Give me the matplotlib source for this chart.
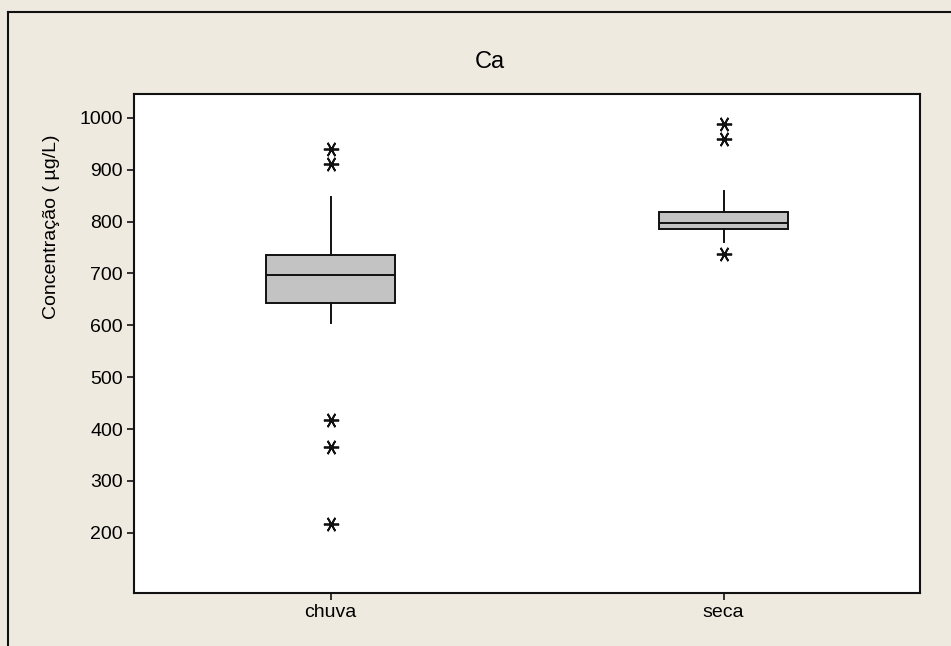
import matplotlib
matplotlib.use("Agg")
import matplotlib.pyplot as plt
from matplotlib.lines import Line2D

plt.rcParams['font.family'] = ['Liberation Sans', 'DejaVu Sans']

categories = ["chuva", "seca"]
q1 = [644, 786]
med = [697, 797]
q3 = [735, 818]
whislo = [604, 760]
whishi = [847, 859]
outliers = [[940, 911, 418, 366, 217], [988, 959, 737]]
yticks = [200, 300, 400, 500, 600, 700, 800, 900, 1000]

W, H = 951, 646
fig = plt.figure(figsize=(W / 100, H / 100), dpi=100)
bg = "#EEEAE0"
fig.patch.set_facecolor(bg)

# axes position from pixel coordinates
l, r, t, b = 134, 920, 94, 593
ax = fig.add_axes([l / W, 1 - b / H, (r - l) / W, (b - t) / H])
ax.set_facecolor("white")

stats = []
for i, c in enumerate(categories):
    stats.append(dict(label=c, q1=q1[i], med=med[i], q3=q3[i],
                      whislo=whislo[i], whishi=whishi[i], fliers=outliers[i]))

ax.bxp(stats, positions=[1, 2], widths=0.33, patch_artist=True, showcaps=False,
       boxprops=dict(facecolor="#C3C3C3", edgecolor="#111111", linewidth=1.4),
       medianprops=dict(color="#111111", linewidth=1.4),
       whiskerprops=dict(color="#111111", linewidth=1.4),
       flierprops=dict(marker=(6, 2, 90), markersize=11, markeredgecolor="#111111",
                       markeredgewidth=1.3, linestyle="none"))

ax.set_xlim(0.5, 2.5)
ax.set_ylim(84, 1046)
ax.set_yticks(yticks)
ax.set_xticks([1, 2])
ax.set_xticklabels(categories)
ax.tick_params(axis="both", length=5, width=1.2, color="#111111", labelsize=14, pad=3)
for s in ax.spines.values():
    s.set_linewidth(1.5)
    s.set_color("#111111")

ax.set_ylabel("Concentração ( µg/L)", fontsize=14)
ax.yaxis.set_label_coords((60 - l) / (r - l), 0.5 + ((b + t) / 2 - 227) / (b - t))
fig.text(490 / W, 1 - 62 / H, "Ca", ha="center", va="center", fontsize=17)

# outer frame (left and top edges)
fig.add_artist(Line2D([8 / W, 8 / W], [0, 1 - 12 / H], transform=fig.transFigure,
                      color="#111111", linewidth=1.5))
fig.add_artist(Line2D([8 / W, 1], [1 - 12 / H, 1 - 12 / H], transform=fig.transFigure,
                      color="#111111", linewidth=1.5))

fig.savefig("out.png", dpi=100, facecolor=bg)
